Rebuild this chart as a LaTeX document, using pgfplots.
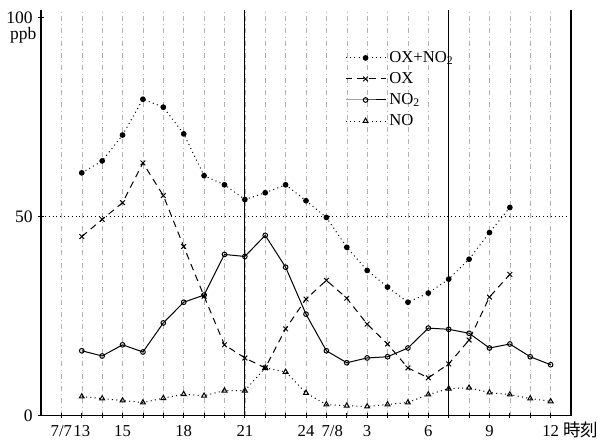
\documentclass[border=0pt]{standalone}
\usepackage{fontspec}
\setmainfont{Liberation Serif}
\newfontfamily\cjk{Noto Sans CJK JP}
\usepackage{pgfplots}
\pgfplotsset{compat=1.18}

% hours counted from 7/7 0h (25 = 7/8 1h)
\pgfplotstableread{
h v
13 61
14 64
15 70.5
16 79.5
17 77.5
18 70.8
19 60.3
20 58
21 54.3
22 56
23 58
24 54
25 49.8
26 42.3
27 36.5
28 32.3
29 28.5
30 30.8
31 34.3
32 39.3
33 46
34 52.3
}\oxno
\pgfplotstableread{
h v
13 45
14 49.3
15 53.5
16 63.5
17 55.3
18 42.5
19 30
20 17.8
21 14.5
22 12
23 21.8
24 29.3
25 34
26 29.5
27 23
28 18
29 12
30 9.5
31 13
32 19
33 29.8
34 35.5
}\ox
\pgfplotstableread{
h v
13 16.3
14 15
15 17.8
16 16
17 23.3
18 28.5
19 30.3
20 40.5
21 40
22 45.3
23 37.3
24 25.5
25 16.3
26 13.3
27 14.5
28 14.8
29 17
30 22
31 21.7
32 20.7
33 17
34 18
35 14.8
36 12.8
}\notwo
\pgfplotstableread{
h v
13 4.8
14 4.3
15 3.8
16 3.3
17 4.4
18 5.4
19 5
20 6.3
21 6.3
22 12
23 11
24 5.7
25 2.8
26 2.5
27 2.3
28 2.8
29 3.3
30 5.3
31 6.8
32 7
33 5.8
34 5.3
35 4.3
36 3.6
}\no

\begin{document}
\begin{tikzpicture}
\path[use as bounding box] (-24.6pt,-15.2pt) rectangle (336pt,249.4pt);
\begin{axis}[
  at={(0,0)}, anchor=south west,
  scale only axis,
  width=318pt, height=243.6pt,
  xmin=11, xmax=37,
  ymin=0, ymax=102,
  clip mode=individual,
  axis x line=bottom,
  axis y line=box,
  axis line style={-, line width=0.7pt},
  ytick pos=left,
  xtick={12,...,36},
  xticklabels={7/7\hspace{4pt},13,,15,,,18,,,21,,,24,\hspace{7pt}7/8,,3,,,6,,,9,,,12},
  ytick={0,50,100},
  tick align=center,
  major tick length=3pt,
  tick style={black, line width=0.5pt},
  xmajorgrids,
  major grid style={black!30, dash dot, line width=0.3pt},
  extra x ticks={21,31},
  extra x tick labels={},
  extra x tick style={grid=major, major grid style={black, solid, line width=0.6pt}},
  extra y ticks={50},
  extra y tick labels={},
  extra y tick style={grid=major, major grid style={black, dotted, line width=0.5pt}},
  /pgf/number format/assume math mode=true,
  yticklabel style={font=\fontsize{10.5}{11}\selectfont},
  xticklabel style={font=\fontsize{10}{11}\selectfont, yshift=-1pt},
  legend style={at={(axis cs:25.9,92.5)}, anchor=north west, draw=none, fill=none,
    font=\fontsize{10}{11}\selectfont, row sep=0.5pt, inner sep=0pt},
  legend cell align=left,
  legend image code/.code={\draw[mark repeat=2,mark phase=2,#1] plot coordinates {(0pt,0pt) (12pt,0pt) (24pt,0pt)};},
]
\addplot[black, line width=0.6pt, dotted, mark=*, mark size=1.4pt, mark options={solid}] table[x=h,y=v] {\oxno};
\addplot[black, line width=0.6pt, dash pattern=on 4pt off 3pt, mark=x, mark size=2pt, mark options={solid}] table[x=h,y=v] {\ox};
\addplot[black, line width=0.6pt, mark=o, mark size=1.4pt, mark options={solid, fill=white}] table[x=h,y=v] {\notwo};
\addplot[black, line width=0.6pt, dash pattern=on 0.6pt off 2pt, mark=triangle, mark size=1.7pt, mark options={solid, fill=white}] table[x=h,y=v] {\no};
\legend{OX+NO\textsubscript{2},OX,NO\textsubscript{2},NO}
\node[anchor=north east, font=\fontsize{10.5}{11}\selectfont, inner sep=0pt] at ([xshift=-2.6pt,yshift=-5.8pt]axis cs:11,100) {ppb};
\node[anchor=west, font=\cjk\fontsize{10.5}{11}\selectfont, inner sep=0pt] at ([yshift=-8.6pt]rel axis cs:0.985,0) {時刻};
\end{axis}
\end{tikzpicture}
\end{document}
